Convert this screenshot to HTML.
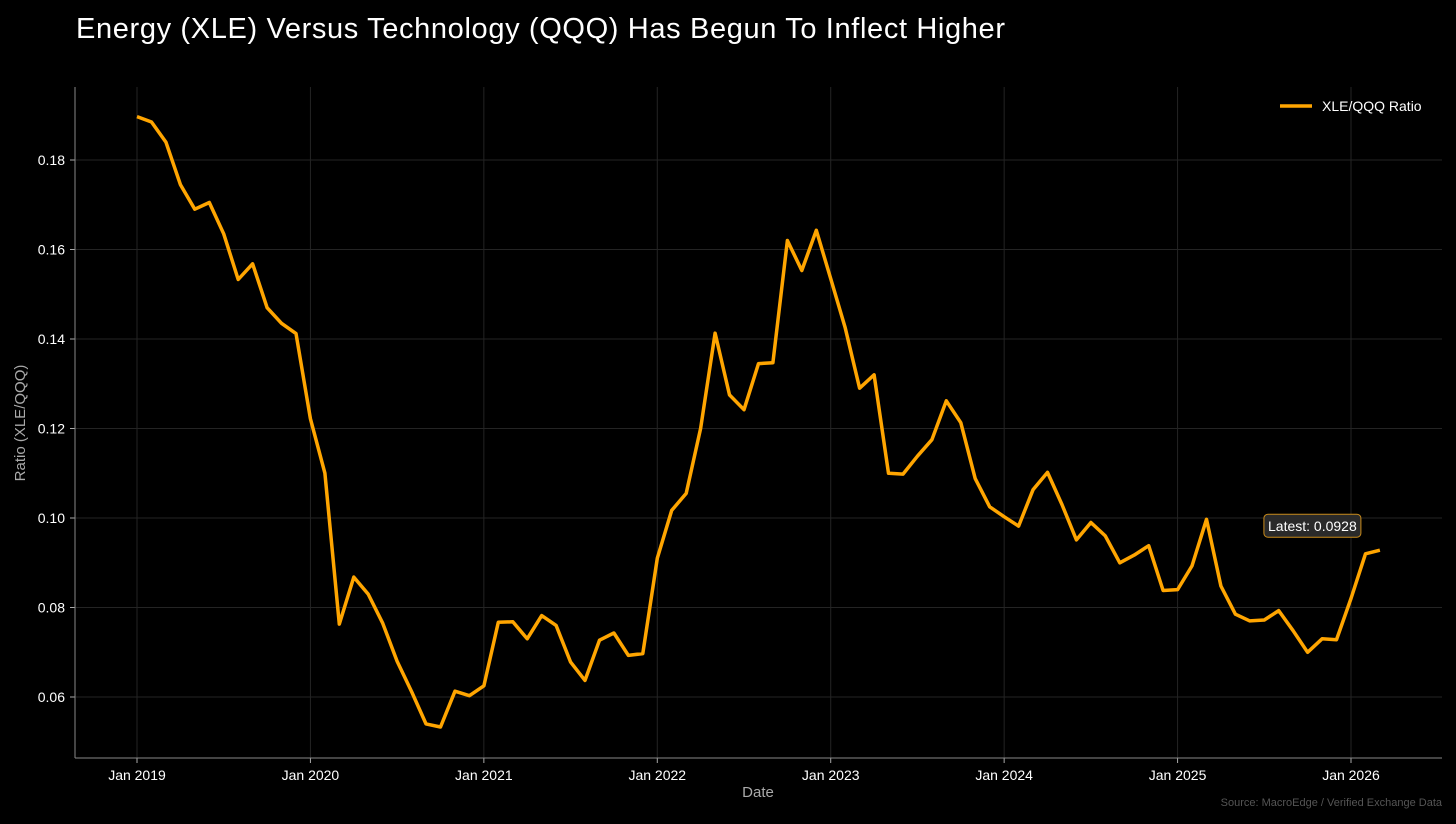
<!DOCTYPE html>
<html><head><meta charset="utf-8"><style>
html,body{margin:0;padding:0;background:#000;}
body{width:1456px;height:819px;overflow:hidden;font-family:"Liberation Sans",sans-serif;}
</style></head><body>
<svg id="chart" width="1456" height="819" xmlns="http://www.w3.org/2000/svg">
<rect x="0" y="0" width="1456" height="819" fill="#000"/>
<text x="76" y="38" fill="#fff" font-size="29" textLength="929" lengthAdjust="spacing" font-family="Liberation Sans, sans-serif">Energy (XLE) Versus Technology (QQQ) Has Begun To Inflect Higher</text>
<g id="grid"></g><g id="axes"></g><g id="series"></g>
<text transform="translate(25,423) rotate(-90)" text-anchor="middle" fill="#aaa" font-size="15">Ratio (XLE/QQQ)</text>
<text x="758" y="797" text-anchor="middle" fill="#aaa" font-size="15">Date</text>
<text x="1442" y="806" text-anchor="end" fill="#555" font-size="11">Source: MacroEdge / Verified Exchange Data</text>
<g>
<line x1="1280" y1="106" x2="1312" y2="106" stroke="#FFA500" stroke-width="3.5"/>
<text x="1322" y="111" fill="#fff" font-size="14">XLE/QQQ Ratio</text>
</g>
</svg>
<script>
const values2019=[.1897,.1885,.184,.1745,.169,.1705,.1635,.1533,.1568,.147,.1435,.1412];
const values2020=[.1222,.110,.0763,.0868,.083,.0765,.068,.0612,.054,.0533,.0613,.0603];
const values2021=[.0625,.0767,.0768,.073,.0782,.076,.0678,.0637,.0727,.0743,.0693,.0697];
const values2022=[.091,.1017,.1055,.120,.1413,.1275,.1242,.1345,.1347,.162,.1553,.1643];
const values2023=[.1535,.1425,.129,.132,.110,.1098,.1138,.1175,.1262,.1213,.1088,.1025];
const values2024=[.1003,.0982,.1063,.1102,.103,.0951,.099,.096,.090,.0917,.0938,.0838];
const values2025=[.084,.0893,.0997,.0848,.0785,.077,.0772,.0793,.0748,.070,.073,.0728];
const values2026=[.082,.092,.0928];
const startYear=2019;
const yTicks=[0.06,0.08,0.10,0.12,0.14,0.16,0.18];
const xTickYears=[2019,2020,2021,2022,2023,2024,2025,2026];
const latestLabel="Latest: 0.0928";

const NS="http://www.w3.org/2000/svg";
const L=75,R=1442,T=87,B=758;
function yScale(v){return 160+(0.18-v)/0.02*89.5;}
function xScale(m){return 137+m*(1351-137)/84;}
function mk(tag,attrs,parent){const e=document.createElementNS(NS,tag);for(const k in attrs)e.setAttribute(k,attrs[k]);parent.appendChild(e);return e;}
const grid=document.getElementById('grid'),axes=document.getElementById('axes'),series=document.getElementById('series');
yTicks.forEach(v=>{const y=yScale(v);
 const g=mk('line',{x1:L,x2:R,y1:y,y2:y,stroke:'#242424','stroke-width':1},grid);
 
 
 mk('line',{x1:L-5,x2:L,y1:y,y2:y,stroke:'#aaa'},axes);
 const t=mk('text',{x:L-10,y:y+5,'text-anchor':'end',fill:'#fff','font-size':14},axes);
 t.textContent=v.toFixed(2);
 
 
});
xTickYears.forEach(yr=>{const x=xScale((yr-startYear)*12);
 const g=mk('line',{x1:x,x2:x,y1:T,y2:B,stroke:'#242424','stroke-width':1},grid);
 
 
 mk('line',{x1:x,x2:x,y1:B,y2:B+5,stroke:'#aaa'},axes);
 const t=mk('text',{x:x,y:B+22,'text-anchor':'middle',fill:'#fff','font-size':14},axes);
 t.textContent='Jan '+yr;
 
 
});
mk('line',{x1:L,x2:L,y1:T,y2:B,stroke:'#888'},axes);
mk('line',{x1:L,x2:R,y1:B,y2:B,stroke:'#888'},axes);
const all=[].concat(values2019,values2020,values2021,values2022,values2023,values2024,values2025,values2026);
const pts=all.map((v,i)=>xScale(i).toFixed(1)+','+yScale(v).toFixed(1)).join(' ');
const line=mk('polyline',{points:pts,fill:'none',stroke:'#FFA500','stroke-width':3.5,'stroke-linejoin':'round'},series);


const lx=xScale(all.length-1),ly=yScale(all[all.length-1]);
const box=mk('rect',{x:lx-116,y:ly-36,width:97,height:23,rx:4,fill:'#2a2a2a',stroke:'#c88a1a','stroke-width':1},series);


const lt=mk('text',{x:lx-67.5,y:ly-19,'text-anchor':'middle',fill:'#fff','font-size':14},series);
lt.textContent=latestLabel;


</script>
</body></html>
